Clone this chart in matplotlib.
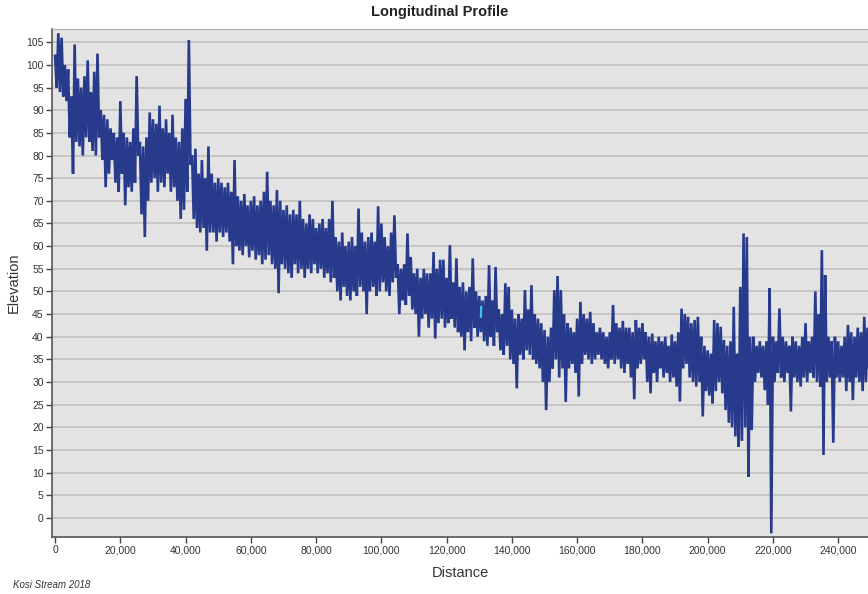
import matplotlib
matplotlib.use("Agg")
import matplotlib.pyplot as plt
from matplotlib.ticker import FuncFormatter
import numpy as np

plt.rcParams['font.family'] = ['Liberation Sans', 'DejaVu Sans']

# Per-kilometre elevation envelope along the Kosi stream (m), km 0..249
elev_high = [
    102, 107, 106, 100, 99, 93, 104.5, 97, 95, 97.5,
    101, 94, 98.5, 102.5, 90, 89, 88, 86, 85, 84,
    92, 85, 84, 83, 86, 97.5, 83, 82, 84, 89.5,
    88, 87, 91, 86, 88, 85, 89, 84, 83, 86,
    92.5, 105.5, 80, 81.5, 76, 79, 75, 82, 76, 74,
    75, 74, 73, 74, 72, 79, 71, 70, 71.5, 69,
    70, 71, 69, 70, 72, 76.4, 70, 69, 72.4, 70,
    68, 69, 67, 68, 67, 70, 66, 65, 67, 66,
    64, 65, 66, 64, 66, 70, 62, 61, 63, 60,
    61, 62, 60, 68.3, 63, 61, 62, 63, 61, 68.8,
    65, 62, 60, 63, 66.8, 56, 55, 56, 62.8, 57.6,
    54, 55, 53, 55, 54, 54, 58.7, 55, 57, 57,
    53, 60.2, 52, 57.3, 51, 52, 50, 51, 57.3, 50,
    49, 48, 49, 55.8, 48, 55.4, 46, 45, 51.8, 51,
    46, 44, 45, 44, 50.3, 46, 51.4, 45, 44, 43,
    41.5, 40, 42, 50.3, 53.4, 50.3, 45, 43, 42, 41,
    44, 47.7, 45, 44, 45.5, 43, 41, 42, 41, 40,
    41, 47, 43, 42, 43.5, 42, 42, 41, 43.7, 42,
    43, 41, 40, 40.7, 39, 40, 39, 40, 38, 40.5,
    39, 41, 46.2, 45, 44.4, 43, 43.7, 44.4, 40, 38,
    37, 36.3, 43.7, 43, 42.2, 39.3, 38, 39, 46.6, 36.3,
    51, 62.8, 62, 40, 40, 38, 39, 38, 39, 50.7,
    40, 39, 46.25, 40, 39, 38, 40, 39, 38, 40,
    43, 39, 40, 50, 45, 59.1, 53.6, 40, 39, 40,
    39, 38, 40, 42.6, 41, 40, 42, 41, 44.4, 42,
]
elev_low = [
    95, 94, 93, 92, 84, 76, 83, 82, 80, 84,
    83, 81, 80, 84, 79, 73, 76, 79, 74, 72,
    76, 69, 73, 72, 74, 80, 67, 62, 70, 74,
    75, 72, 74, 73, 76, 72, 73, 70, 66, 68,
    72, 78, 66, 64, 63, 64, 59, 63, 63, 61,
    63, 62, 63, 61, 56, 60, 59, 58, 60, 57.5,
    59, 57, 58, 56, 57, 58, 56, 55, 49.6, 56,
    55, 54, 53, 56, 54, 55, 53, 55, 54, 56,
    54, 55, 53, 54, 52, 53, 50, 48, 51, 49,
    48, 50, 49, 51, 50, 45, 50, 51, 49, 50,
    52, 50, 49, 52, 53, 45, 48, 47, 49, 46,
    45, 40, 44, 45, 42, 44, 39.6, 43, 44, 42,
    43, 44, 42, 41, 40, 37, 41, 39, 42, 40,
    41, 39, 38, 40, 38, 41, 37, 36, 38, 35,
    34, 28.6, 36, 35, 37, 36, 35, 34, 33, 30,
    23.8, 30, 33, 35, 31, 33, 25.6, 33, 34, 32,
    26.8, 34, 36, 35, 34, 35, 36, 35, 34, 33,
    35, 34, 35, 33, 32, 34, 31, 26.2, 33, 34,
    35, 30, 27.5, 32, 30, 33, 31, 32, 30, 31,
    29, 25.7, 33, 34, 31, 30, 29, 30, 22.4, 28,
    27, 25.3, 28, 30, 27.5, 23.8, 21, 20, 18, 15.7,
    17, 20, 9.1, 19.4, 30, 32, 31, 28.2, 25, -3.4,
    30, 32, 31, 30, 32, 23.5, 31, 30, 29, 31,
    30, 32, 31, 30, 29, 13.9, 30, 31, 16.6, 31,
    30, 31, 28, 30, 26, 31, 30, 28, 30, 32,
]
bin_km = np.arange(len(elev_high))

# Short stretch drawn in the highlight colour
highlight_km = [130.5, 130.6]
highlight_elev = [44.4, 46.6]

x_ticks = list(range(0, 240001, 20000))
y_ticks = list(range(0, 106, 5))

# Interleave high/low within each kilometre bin to trace the profile
dist = np.empty(2 * len(bin_km))
elev = np.empty(2 * len(bin_km))
dist[0::2] = bin_km * 1000.0
dist[1::2] = bin_km * 1000.0 + 500.0
elev[0::2] = elev_high
elev[1::2] = elev_low

fig = plt.figure(figsize=(8.68, 5.94), dpi=100)
ax = fig.add_axes([0.06, 0.096, 0.95, 0.855])
ax.set_facecolor('#e3e3e3')

ax.plot(dist, elev, color='#283a8c', linewidth=1.9, solid_joinstyle='miter')
ax.plot(np.array(highlight_km) * 1000.0, highlight_elev, color='#3fc4e6', linewidth=1.6)

ax.set_xlim(-919, 251800)
ax.set_ylim(-4.2, 107.9)
ax.set_xticks(x_ticks)
ax.set_yticks(y_ticks)
ax.xaxis.set_major_formatter(FuncFormatter(lambda v, p: f"{int(v):,}"))

ax.yaxis.grid(True, color='#c3c3c3', linewidth=1.3)
ax.xaxis.grid(False)
ax.set_axisbelow(True)

for side in ('left', 'bottom'):
    ax.spines[side].set_color('#555555')
    ax.spines[side].set_linewidth(1.2)
ax.spines['top'].set_color('#a8a8a8')
ax.spines['right'].set_visible(False)

ax.tick_params(axis='both', labelsize=7.5, colors='#444444', length=4, width=1,
               labelcolor='#333333', pad=2)

fig.text(0.507, 0.979, 'Longitudinal Profile', ha='center', va='center',
         fontsize=10.5, fontweight='bold', color='#222222')
fig.text(0.53, 0.035, 'Distance', ha='center', va='center', fontsize=10.5, color='#333333')
fig.text(0.016, 0.524, 'Elevation', ha='center', va='center', rotation=90,
         fontsize=10.5, color='#333333')
fig.text(0.015, 0.015, 'Kosi Stream 2018', ha='left', va='center', fontsize=7,
         style='italic', color='#333333')

fig.savefig('out.png', dpi=100)
